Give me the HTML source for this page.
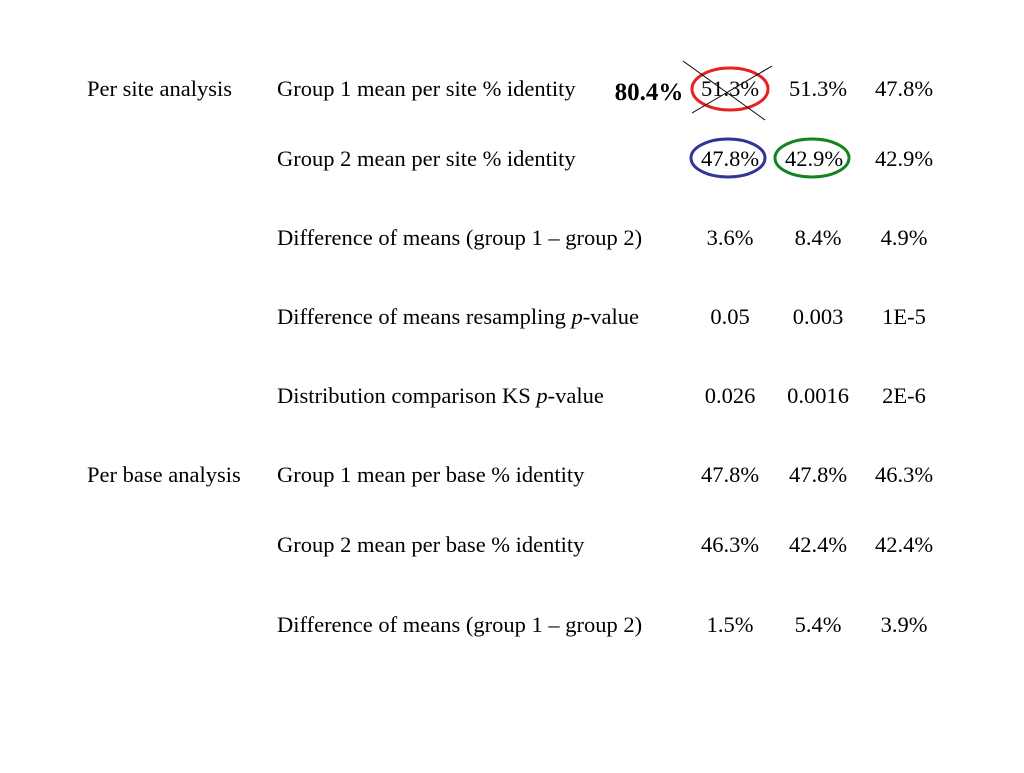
<!DOCTYPE html>
<html><head><meta charset="utf-8"><style>
body{margin:0;background:#fff}
svg text{font-family:"Liberation Serif","Times New Roman",serif;font-size:22.5px;fill:#000}
</style></head><body>
<svg width="1024" height="768">
<g>
<text x="87" y="96">Per site analysis</text>
<text x="87" y="482">Per base analysis</text>
</g>
<g>
<text x="277" y="96">Group 1 mean per site % identity</text>
<text x="277" y="166">Group 2 mean per site % identity</text>
<text x="277" y="245">Difference of means (group 1 – group 2)</text>
<text x="277" y="324">Difference of means resampling <tspan font-style="italic">p</tspan>-value</text>
<text x="277" y="403">Distribution comparison KS <tspan font-style="italic">p</tspan>-value</text>
<text x="277" y="482">Group 1 mean per base % identity</text>
<text x="277" y="552">Group 2 mean per base % identity</text>
<text x="277" y="632">Difference of means (group 1 – group 2)</text>
</g>
<g text-anchor="middle">
<text x="730" y="96">51.3%</text><text x="818" y="96">51.3%</text><text x="904" y="96">47.8%</text>
<text x="730" y="166">47.8%</text><text x="814" y="166">42.9%</text><text x="904" y="166">42.9%</text>
<text x="730" y="245">3.6%</text><text x="818" y="245">8.4%</text><text x="904" y="245">4.9%</text>
<text x="730" y="324">0.05</text><text x="818" y="324">0.003</text><text x="904" y="324">1E-5</text>
<text x="730" y="403">0.026</text><text x="818" y="403">0.0016</text><text x="904" y="403">2E-6</text>
<text x="730" y="482">47.8%</text><text x="818" y="482">47.8%</text><text x="904" y="482">46.3%</text>
<text x="730" y="552">46.3%</text><text x="818" y="552">42.4%</text><text x="904" y="552">42.4%</text>
<text x="730" y="632">1.5%</text><text x="818" y="632">5.4%</text><text x="904" y="632">3.9%</text>
</g>
<text x="649" y="100" text-anchor="middle" font-weight="bold" style="font-size:25px">80.4%</text>
<ellipse cx="730" cy="89" rx="38" ry="21" fill="none" stroke="#e82020" stroke-width="3"/>
<line x1="683" y1="61" x2="765" y2="120" stroke="#000" stroke-width="1"/>
<line x1="692" y1="113" x2="772" y2="66" stroke="#000" stroke-width="1"/>
<ellipse cx="728" cy="158" rx="37" ry="19" fill="none" stroke="#333399" stroke-width="3"/>
<ellipse cx="812" cy="158" rx="37" ry="19" fill="none" stroke="#13831f" stroke-width="3"/>
</svg>
</body></html>
